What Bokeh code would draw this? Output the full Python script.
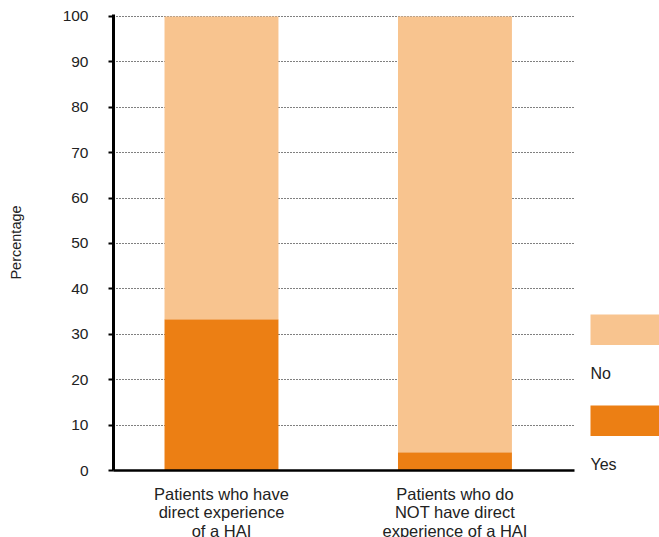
from bokeh.plotting import figure
from bokeh.models import Range1d, FixedTicker, ColumnDataSource
from bokeh.layouts import row
from bokeh.embed import file_html
from bokeh.resources import INLINE
from bokeh.core.properties import value

# ---- data ----
categories = ["Patients who have\ndirect experience\nof a HAI",
              "Patients who do\nNOT have direct\nexperience of a HAI"]
series_names = ["Yes", "No"]
yes_values = [33.3, 4.0]
no_values = [66.7, 96.0]
y_ticks = [0, 10, 20, 30, 40, 50, 60, 70, 80, 90, 100]

# ---- styles ----
DARK = "#EC7F14"
LIGHT = "#F8C48F"
FONT = "Liberation Sans"
TXT = "#222222"
colors = [DARK, LIGHT]

xs = [i + 1 for i in range(len(categories))]
source = ColumnDataSource(dict(x=xs, Yes=yes_values, No=no_values))

p = figure(frame_width=461, frame_height=456, output_backend="svg",
           toolbar_location=None,
           x_range=Range1d(0.5375, 2.512), y_range=Range1d(0, 100.44),
           min_border_left=113, min_border_right=9, min_border_top=14,
           min_border_bottom=0)
p.outline_line_color = None
p.background_fill_color = "white"

p.vbar_stack(series_names, x="x", width=0.488, source=source,
             color=colors, line_color=None)

# y axis
yax = p.yaxis[0]
yax.ticker = FixedTicker(ticks=y_ticks)
yax.axis_line_width = 3
yax.axis_line_color = "black"
yax.major_tick_out = 5
yax.major_tick_in = 0
yax.major_tick_line_width = 2
yax.major_tick_line_color = "black"
yax.minor_tick_line_color = None
yax.major_label_standoff = 20
yax.major_label_text_font = FONT
yax.major_label_text_font_size = "15.5px"
yax.major_label_text_color = TXT
yax.axis_label = "Percentage"
yax.axis_label_text_font = FONT
yax.axis_label_text_font_size = "14.5px"
yax.axis_label_text_font_style = "normal"
yax.axis_label_text_color = TXT
yax.axis_label_standoff = 36

# x axis with category labels
xax = p.xaxis[0]
xax.ticker = FixedTicker(ticks=xs)
xax.major_label_overrides = {xv: cat for xv, cat in zip(xs, categories)}
xax.axis_line_width = 2.5
xax.axis_line_color = "black"
xax.major_tick_line_color = None
xax.major_tick_out = 0
xax.major_tick_in = 0
xax.minor_tick_line_color = None
xax.major_label_standoff = 14
xax.major_label_text_font = FONT
xax.major_label_text_font_size = "16.5px"
xax.major_label_text_color = TXT
xax.major_label_text_line_height = 1.05

p.xgrid.grid_line_color = None
p.ygrid.ticker = FixedTicker(ticks=y_ticks)
p.ygrid.grid_line_color = "black"
p.ygrid.grid_line_alpha = 1.0
p.ygrid.grid_line_width = 1
p.ygrid.grid_line_dash = "1 2"

# ---- legend panel (coordinates in page pixels vertically) ----
leg = figure(frame_width=76, frame_height=456, output_backend="svg",
             toolbar_location=None,
             x_range=Range1d(0, 76), y_range=Range1d(470, 14),
             min_border_left=0, min_border_right=0,
             min_border_top=14, min_border_bottom=0)
leg.outline_line_color = None
leg.xaxis.visible = False
leg.yaxis.visible = False
leg.grid.visible = False

legend_order = ["No", "Yes"]
legend_colors = {"Yes": DARK, "No": LIGHT}
sw_left, sw_right, sw_h = 7, 76, 30.6
top0, step, text_gap = 314, 91, 28.8
tops = [top0 + i * step for i in range(len(legend_order))]
leg.quad(left=[sw_left] * len(tops), right=[sw_right] * len(tops),
         top=tops, bottom=[t + sw_h for t in tops],
         color=[legend_colors[n] for n in legend_order], line_color=None)
leg.text(x=[sw_left] * len(tops), y=[t + sw_h + text_gap for t in tops],
         text=legend_order, text_font=value(FONT), text_font_size="16px",
         text_color=TXT, text_baseline="middle", text_align="left")

layout = row(p, leg)
open("out.html", "w").write(file_html(layout, INLINE))
